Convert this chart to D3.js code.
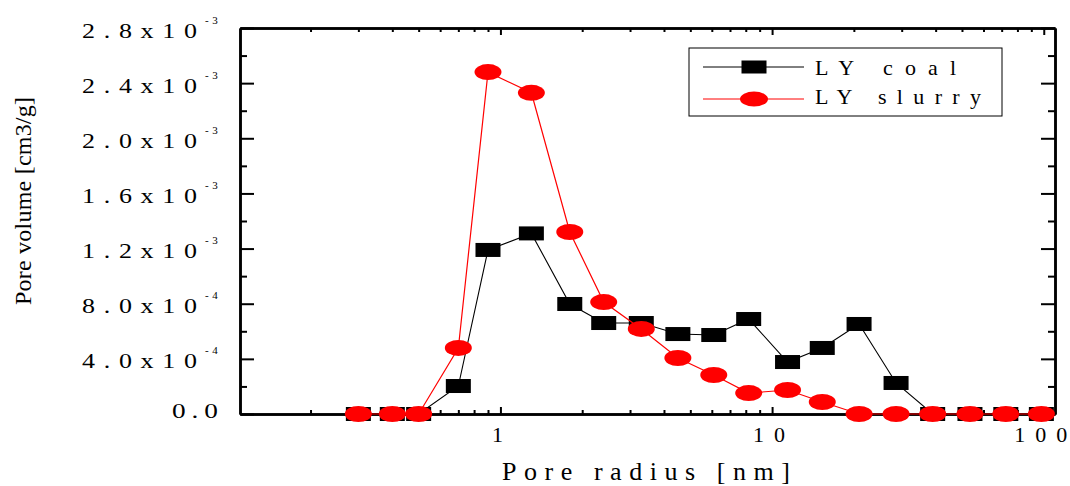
<!DOCTYPE html>
<html>
<head>
<meta charset="utf-8">
<script src="https://d3js.org/d3.v7.min.js"></script>
<style>
  body { margin: 0; background: white; }
  text { font-family: "Liberation Serif", "Times New Roman", serif; fill: black; }
  .frame path.domain { stroke: black; stroke-width: 2.5px; }
  .frame .tick line { stroke: black; stroke-width: 2px; }
</style>
</head>
<body>
<svg id="chart" width="1070" height="486"></svg>
<script>
// pore radius (nm)
const radius = [0.3, 0.4, 0.5, 0.7, 0.9, 1.3, 1.8, 2.4, 3.3, 4.5, 6.1, 8.2, 11.4, 15.3, 20.9, 28.6, 39, 53.5, 72.5, 98];
// pore volume (cm3/g)
const coal   = [0, 0, 0, 2.03e-4, 1.19e-3, 1.31e-3, 7.98e-4, 6.6e-4, 6.6e-4, 5.8e-4, 5.73e-4, 6.89e-4, 3.77e-4, 4.79e-4, 6.53e-4, 2.25e-4, 0, 0, 0, 0];
const slurry = [0, 0, 0, 4.79e-4, 2.48e-3, 2.33e-3, 1.32e-3, 8.12e-4, 6.17e-4, 4.06e-4, 2.83e-4, 1.52e-4, 1.74e-4, 8.7e-5, 0, 0, 0, 0, 0, 0];

const legendLabels = ["LY coal", "LY slurry"];

const xMajor = [1, 10, 100];
const xTickLabels = ["1", "10", "100"];
const xMinor = [0.2, 0.3, 0.4, 0.5, 0.6, 0.7, 0.8, 0.9, 2, 3, 4, 5, 6, 7, 8, 9, 20, 30, 40, 50, 60, 70, 80, 90];

const yMajor = [0, 4e-4, 8e-4, 1.2e-3, 1.6e-3, 2.0e-3, 2.4e-3, 2.8e-3];
const yMantissa = ["0.0", "4.0", "8.0", "1.2", "1.6", "2.0", "2.4", "2.8"];
const yExponent = ["", "-4", "-4", "-3", "-3", "-3", "-3", "-3"];
const yMinor = [2e-4, 6e-4, 1.0e-3, 1.4e-3, 1.8e-3, 2.2e-3, 2.6e-3];

const svg = d3.select("#chart");
svg.append("rect").attr("width", 1070).attr("height", 486).attr("fill", "white");

const plotLeft = 240, plotRight = 1055, plotTop = 28, plotBottom = 414;

const x = d3.scaleLog().domain([0.11, 110]).range([plotLeft, plotRight]);
const y = d3.scaleLinear().domain([0, 2.8e-3]).range([plotBottom, plotTop]);

// frame: all four sides with inward ticks
const frame = svg.append("g").attr("class", "frame");

function drawAxis(axisFn, scale, values, size, transform, fmt) {
    const g = frame.append("g")
        .attr("transform", transform)
        .call(axisFn(scale).tickValues(values).tickSizeInner(size).tickSizeOuter(0)
              .tickFormat(fmt || (() => "")));
    return g;
}

// bottom
const xAxisG = drawAxis(d3.axisBottom, x, xMajor, -7, `translate(0,${plotBottom})`, (d, i) => xTickLabels[i]);
drawAxis(d3.axisBottom, x, xMinor, -4, `translate(0,${plotBottom})`);
// top
drawAxis(d3.axisTop, x, xMajor, -7, `translate(0,${plotTop})`);
drawAxis(d3.axisTop, x, xMinor, -4, `translate(0,${plotTop})`);
// left
drawAxis(d3.axisLeft, y, yMajor, -14, `translate(${plotLeft},0)`);
drawAxis(d3.axisLeft, y, yMinor, -7, `translate(${plotLeft},0)`);
// right
drawAxis(d3.axisRight, y, yMajor, -14, `translate(${plotRight},0)`);
drawAxis(d3.axisRight, y, yMinor, -7, `translate(${plotRight},0)`);

// spaced-out tick labels; spread with textLength so nothing trails past the edge
const labelLen = s => (s.length - 1) * 21 + 11;
xAxisG.selectAll(".tick text")
    .attr("y", 28).attr("dy", null)
    .attr("text-anchor", "start")
    .attr("x", (d, i) => -3.5 - labelLen(xTickLabels[i]) / 2)
    .attr("textLength", (d, i) => labelLen(xTickLabels[i]))
    .attr("lengthAdjust", "spacing")
    .style("font-size", "22px")
    .style("font-family", '"Liberation Serif", "Times New Roman", serif')
    .attr("fill", "black");

// y tick labels: mantissa x 10 with superscript exponent
const sx = 1.3;
const yLab = svg.append("g").attr("class", "ylabels");
yMajor.forEach((v, i) => {
    const g = yLab.append("g").attr("transform", `translate(0,${y(v)})`);
    if (yExponent[i] === "") {
        g.append("text")
            .attr("transform", `scale(${sx},1)`)
            .attr("x", 172 / sx).attr("y", 4)
            .attr("textLength", 46 / sx).attr("lengthAdjust", "spacing")
            .style("font-size", "21px")
            .text(yMantissa[i]);
    } else {
        g.append("text")
            .attr("transform", `scale(${sx},1)`)
            .attr("x", 82 / sx).attr("y", 9.5)
            .attr("textLength", 115 / sx).attr("lengthAdjust", "spacing")
            .style("font-size", "20px")
            .text(yMantissa[i] + "x10");
        g.append("text")
            .attr("x", 205).attr("y", -4.5)
            .style("font-size", "11px")
            .style("letter-spacing", "3.5px")
            .text(yExponent[i]);
    }
});

// axis titles
svg.append("text")
    .attr("transform", "translate(31,201) rotate(-90)")
    .attr("text-anchor", "middle")
    .attr("textLength", 208).attr("lengthAdjust", "spacing")
    .style("font-size", "24px")
    .text("Pore volume [cm3/g]");

svg.append("text")
    .attr("x", 502).attr("y", 480)
    .attr("textLength", 288).attr("lengthAdjust", "spacing")
    .style("font-size", "26px")
    .text("Pore radius [nm]");

// series
const line = d3.line().x(d => x(d[0])).y(d => y(d[1]));
const coalPts = radius.map((r, i) => [r, coal[i]]);
const slurryPts = radius.map((r, i) => [r, slurry[i]]);

const plot = svg.append("g").attr("class", "plot");

plot.append("path").datum(coalPts)
    .attr("d", line).attr("fill", "none").attr("stroke", "black").attr("stroke-width", 1.1);

plot.selectAll("rect.coal").data(coalPts).join("rect")
    .attr("class", "coal")
    .attr("x", d => x(d[0]) - 12.5).attr("y", d => y(d[1]) - 7)
    .attr("width", 25).attr("height", 14)
    .attr("fill", "black");

plot.append("path").datum(slurryPts)
    .attr("d", line).attr("fill", "none").attr("stroke", "#ff0000").attr("stroke-width", 1.2);

plot.selectAll("ellipse.slurry").data(slurryPts).join("ellipse")
    .attr("class", "slurry")
    .attr("cx", d => x(d[0])).attr("cy", d => y(d[1]))
    .attr("rx", 13.5).attr("ry", 8)
    .attr("fill", "#ff0000");

// legend
const legend = svg.append("g").attr("class", "legend");
legend.append("rect")
    .attr("x", 689).attr("y", 48).attr("width", 313).attr("height", 68)
    .attr("fill", "white").attr("stroke", "black").attr("stroke-width", 1);

const rows = [
    {label: legendLabels[0], color: "black", shape: "rect", y: 67, base: 75, len: 141},
    {label: legendLabels[1], color: "#ff0000", shape: "ellipse", y: 99, base: 104, len: 166}
];
rows.forEach(r => {
    legend.append("line")
        .attr("x1", 703).attr("x2", 804).attr("y1", r.y).attr("y2", r.y)
        .attr("stroke", r.color).attr("stroke-width", 1);
    if (r.shape === "rect") {
        legend.append("rect")
            .attr("x", 754 - 12.5).attr("y", r.y - 6.5).attr("width", 25).attr("height", 13)
            .attr("fill", r.color);
    } else {
        legend.append("ellipse")
            .attr("cx", 754).attr("cy", r.y).attr("rx", 14).attr("ry", 7.5)
            .attr("fill", r.color);
    }
    legend.append("text")
        .attr("x", 815).attr("y", r.base)
        .attr("textLength", r.len).attr("lengthAdjust", "spacing")
        .style("font-size", "22px")
        .text(r.label);
});
</script>
</body>
</html>
